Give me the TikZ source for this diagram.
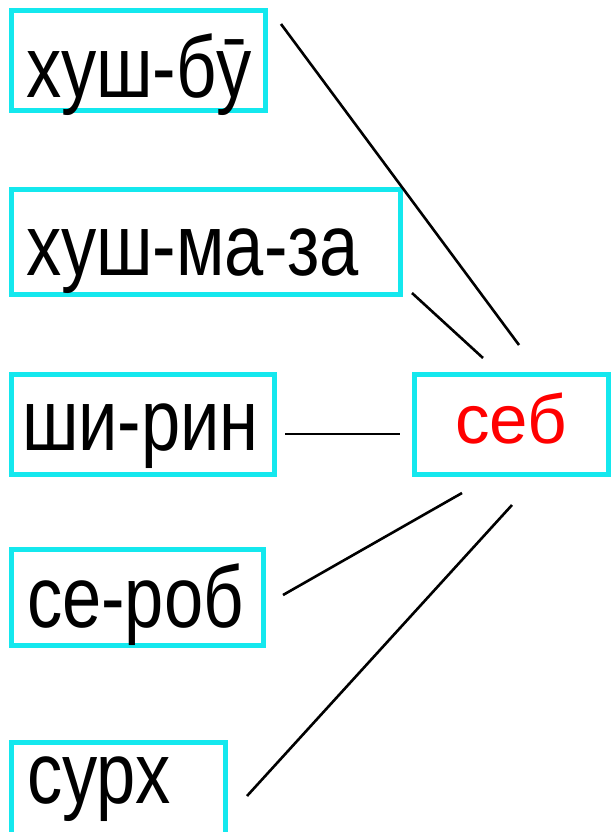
\documentclass[tikz,border=0pt]{standalone}
\usepackage{fontspec}
\newfontfamily\labfont[FakeStretch=0.81]{Liberation Sans}
\newfontfamily\sebfont{Liberation Sans}
\definecolor{boxcyan}{RGB}{20,232,238}
\definecolor{sebred}{RGB}{255,0,0}
\begin{document}
\begin{tikzpicture}[x=1bp,y=-1bp,
  wordbox/.style={draw=boxcyan,line width=5bp,rectangle,inner sep=0pt,outer sep=0pt},
  wordtext/.style={anchor=base west,inner sep=0pt,outer sep=0pt,font=\labfont\fontsize{87bp}{87bp}\selectfont},
  sebtext/.style={anchor=base west,inner sep=0pt,outer sep=0pt,text=sebred,font=\sebfont\fontsize{69bp}{69bp}\selectfont},
  link/.style={draw=black,line width=2.6bp}]
\useasboundingbox (0,0) rectangle (613,832);
% boxes
\node[wordbox,minimum width=254bp,minimum height=100bp] (b1) at (138.5,60.5) {};
\node[wordbox,minimum width=389bp,minimum height=105bp] (b2) at (206,242) {};
\node[wordbox,minimum width=263bp,minimum height=100bp] (b3) at (143,424.5) {};
\node[wordbox,minimum width=252bp,minimum height=96bp] (b4) at (137.5,597.5) {};
\node[wordbox,minimum width=214bp,minimum height=100bp] (b5) at (118.5,792.5) {};
\node[wordbox,minimum width=194bp,minimum height=100bp] (seb) at (511.5,424.5) {};
% texts
\node[wordtext] (t1) at (26,97) {хуш-бӯ};
\node[wordtext] (t2) at (26,275) {хуш-ма-за};
\node[wordtext] (t3) at (22,450) {ши-рин};
\node[wordtext] (t4) at (27,627) {се-роб};
\node[wordtext] (t5) at (27,803) {сурх};
\node[sebtext] (ts) at (455,443) {себ};
% connector end points
\coordinate (p1) at (281,24);  \coordinate (q1) at (519,345);
\coordinate (p2) at (412,293); \coordinate (q2) at (483,358);
\coordinate (p3) at (285,434); \coordinate (q3) at (400,434);
\coordinate (p4) at (283,595); \coordinate (q4) at (462,493);
\coordinate (p5) at (247,796); \coordinate (q5) at (512,505);
\draw[link] (p1) -- (q1);
\draw[link] (p2) -- (q2);
\draw[link] (p3) -- (q3);
\draw[link] (p4) -- (q4);
\draw[link] (p5) -- (q5);
\end{tikzpicture}
\end{document}
